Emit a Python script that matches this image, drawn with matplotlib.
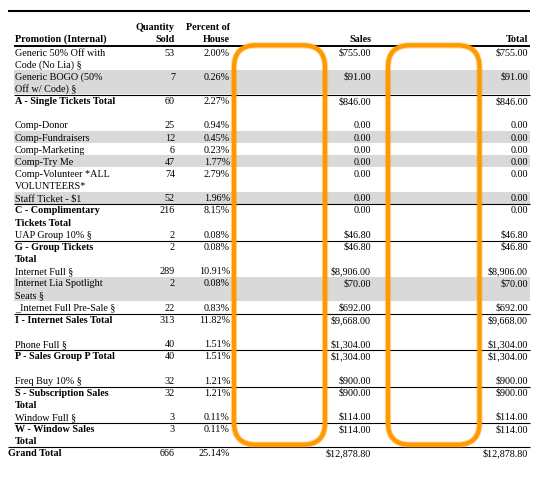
import matplotlib
matplotlib.use("Agg")
import matplotlib.pyplot as plt
from matplotlib.patches import FancyBboxPatch, Rectangle

# 데이터 (표에서 읽은 값)
promotions = [
    "Generic 50% Off with\nCode (No Lia) §",
    "Generic BOGO (50%\nOff w/ Code) §",
    "A - Single Tickets Total",
    "Comp-Donor",
    "Comp-Fundraisers",
    "Comp-Marketing",
    "Comp-Try Me",
    "Comp-Volunteer *ALL\nVOLUNTEERS*",
    "Staff Ticket - $1",
    "C - Complimentary\nTickets Total",
    "UAP Group 10% §",
    "G - Group Tickets\nTotal",
    "Internet Full §",
    "Internet Lia Spotlight\nSeats §",
    "_Internet Full Pre-Sale §",
    "I - Internet Sales Total",
    "Phone Full §",
    "P - Sales Group P Total",
    "Freq Buy 10% §",
    "S - Subscription Sales\nTotal",
    "Window Full §",
    "W - Window Sales\nTotal",
    "Grand Total",
]
row_kind = ["d", "d", "sub", "d", "d", "d", "d", "d", "d", "sub", "d", "sub",
            "d", "d", "d", "sub", "d", "sub", "d", "sub", "d", "sub", "grand"]
quantity = [53, 7, 60, 25, 12, 6, 47, 74, 52, 216, 2, 2,
            289, 2, 22, 313, 40, 40, 32, 32, 3, 3, 666]
percent = [2.00, 0.26, 2.27, 0.94, 0.45, 0.23, 1.77, 2.79, 1.96, 8.15, 0.08, 0.08,
           10.91, 0.08, 0.83, 11.82, 1.51, 1.51, 1.21, 1.21, 0.11, 0.11, 25.14]
sales = [755.00, 91.00, 846.00, 0, 0, 0, 0, 0, 0, 0, 46.80, 46.80,
         8906.00, 70.00, 692.00, 9668.00, 1304.00, 1304.00, 900.00, 900.00,
         114.00, 114.00, 12878.80]
total = [755.00, 91.00, 846.00, 0, 0, 0, 0, 0, 0, 0, 46.80, 46.80,
         8906.00, 70.00, 692.00, 9668.00, 1304.00, 1304.00, 900.00, 900.00,
         114.00, 114.00, 12878.80]
headers = ["Promotion (Internal)", "Quantity\nSold", "Percent of\nHouse", "Sales", "Total"]


def money(v):
    if v == 0:
        return "0.00"
    return "${:,.2f}".format(v)


plt.rcParams['font.family'] = ['Liberation Serif', 'DejaVu Serif']
FS = 7.3
LH = 12.15  # 줄 높이 (px)
BASE = 9.6  # 줄 위쪽에서 기준선까지

fig = plt.figure(figsize=(5.53, 4.8), dpi=100)
ax = fig.add_axes([0, 0, 1, 1])
ax.set_xlim(0, 553)
ax.set_ylim(480, 0)
ax.axis('off')

x_left, x_right = 14, 530
col_r = [None, 175, 230, 371, 528]

# 머리글
ax.plot([8, x_right], [11, 11], color='black', lw=1.5, solid_capstyle='butt')
ax.text(15, 41.7, headers[0], fontsize=FS, fontweight='bold', ha='left', va='baseline')
for j in range(1, 5):
    parts = headers[j].split("\n")
    for k, p in enumerate(reversed(parts)):
        ax.text(col_r[j], 41.7 - k * 12, p, fontsize=FS, fontweight='bold',
                ha='right', va='baseline')
ax.plot([x_left, x_right], [45.6, 45.6], color='black', lw=1.4, solid_capstyle='butt')

# 본문
y = 45.9
alt = 0
for i, lab in enumerate(promotions):
    kind = row_kind[i]
    lines = lab.split("\n")
    n = 2 if kind == "sub" else len(lines)
    top = y
    if kind == "d":
        if alt % 2 == 1:
            ax.add_patch(Rectangle((x_left, top), x_right - x_left, n * LH,
                                   facecolor='#d9d9d9', edgecolor='none', zorder=0))
        alt += 1
    else:
        alt = 0
        x0 = 8 if kind == "grand" else x_left
        ax.plot([x0, x_right], [top + 0.6, top + 0.6], color='black', lw=0.8,
                solid_capstyle='butt')
    bold = 'bold' if kind != "d" else 'normal'
    lx = 8 if kind == "grand" else 15
    for k, t in enumerate(lines):
        ax.text(lx, top + LH * k + BASE, t, fontsize=FS, fontweight=bold,
                ha='left', va='baseline')
    yb = top + BASE
    ax.text(col_r[1], yb, str(quantity[i]), fontsize=FS, ha='right', va='baseline')
    ax.text(col_r[2], yb, "{:.2f}%".format(percent[i]), fontsize=FS, ha='right', va='baseline')
    ax.text(col_r[3], yb, money(sales[i]), fontsize=FS, ha='right', va='baseline')
    ax.text(col_r[4], yb, money(total[i]), fontsize=FS, ha='right', va='baseline')
    y += n * LH

# 주황색 강조 상자
for bx0, bx1 in [(234.0, 325.0), (388.0, 479.5)]:
    for lw, a in [(4.6, 0.35), (3.1, 1.0)]:
        ax.add_patch(FancyBboxPatch((bx0, 45.3), bx1 - bx0, 399.4,
                                    boxstyle="round,pad=0,rounding_size=22",
                                    facecolor='none', edgecolor='#ff9900',
                                    lw=lw, alpha=a, zorder=5))

fig.savefig("out.png", dpi=100)
